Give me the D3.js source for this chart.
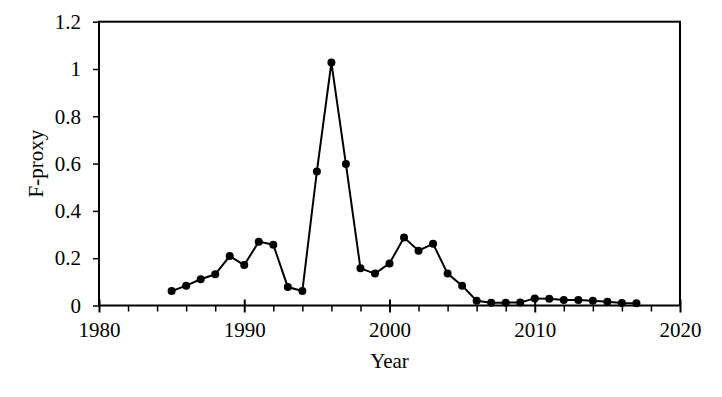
<!DOCTYPE html>
<html><head><meta charset="utf-8">
<script src="https://cdn.jsdelivr.net/npm/d3@7"></script>
<style>body{margin:0;background:#fff}svg{display:block}text{font-family:"Liberation Serif","Times New Roman",serif;fill:#000}</style>
</head><body>
<script>
const years = [1985,1986,1987,1988,1989,1990,1991,1992,1993,1994,1995,1996,1997,1998,1999,2000,2001,2002,2003,2004,2005,2006,2007,2008,2009,2010,2011,2012,2013,2014,2015,2016,2017];
const fproxy = [0.061,0.084,0.111,0.132,0.209,0.171,0.270,0.257,0.078,0.061,0.567,1.027,0.598,0.157,0.135,0.178,0.287,0.232,0.261,0.135,0.084,0.020,0.012,0.012,0.013,0.030,0.029,0.023,0.023,0.020,0.016,0.011,0.010];
const xTicks = [1980,1990,2000,2010,2020];
const yTicks = [0,0.2,0.4,0.6,0.8,1,1.2];
const xLabel = "Year", yLabel = "F-proxy";

const W=722,H=397;
const svg=d3.select("body").append("svg").attr("width",W).attr("height",H);
const x=d3.scaleLinear().domain([1980,2020]).range([99,680]);
const y=d3.scaleLinear().domain([0,1.2]).range([305.5,21.7]);
const FS=21;

// frame
svg.append("rect").attr("x",x(1980)).attr("y",y(1.2)).attr("width",x(2020)-x(1980)).attr("height",y(0)-y(1.2))
  .attr("fill","none").attr("stroke","#000").attr("stroke-width",2);

// x axis
const xAxis=svg.append("g").attr("transform",`translate(0,${y(0)})`)
  .call(d3.axisBottom(x).tickValues(xTicks).tickSize(7).tickPadding(10).tickFormat(d3.format("d")));
xAxis.select(".domain").remove();
xAxis.selectAll(".tick line").attr("y1",-6).attr("stroke-width",2);
xAxis.selectAll("text").attr("font-size",FS);
// minor x ticks
const minor=d3.range(1982,2020,2).filter(v=>v%10!==0);
svg.append("g").attr("transform",`translate(0,${y(0)})`)
  .call(d3.axisBottom(x).tickValues(minor).tickSize(6).tickFormat(""))
  .call(g=>g.select(".domain").remove())
  .selectAll(".tick line").attr("stroke-width",1.5);

// y axis
const yAxis=svg.append("g").attr("transform",`translate(${x(1980)},0)`)
  .call(d3.axisLeft(y).tickValues(yTicks).tickSize(6).tickPadding(12).tickFormat(d=>d3.format("")(+d.toFixed(1))));
yAxis.select(".domain").remove();
yAxis.selectAll(".tick line").attr("stroke-width",1.5);
yAxis.selectAll("text").attr("font-size",FS);

// line
const pts=years.map((yr,i)=>[yr,fproxy[i]]);
svg.append("path").datum(pts).attr("fill","none").attr("stroke","#000").attr("stroke-width",2)
  .attr("d",d3.line().x(d=>x(d[0])).y(d=>y(d[1])));
svg.append("g").selectAll("circle").data(pts).join("circle")
  .attr("cx",d=>x(d[0])).attr("cy",d=>y(d[1])).attr("r",4).attr("fill","#000");

// labels
svg.append("text").attr("x",(x(1980)+x(2020))/2).attr("y",368).attr("text-anchor","middle").attr("font-size",FS).text(xLabel);
svg.append("text").attr("transform",`translate(43,${(y(0)+y(1.2))/2}) rotate(-90)`).attr("text-anchor","middle").attr("font-size",FS).text(yLabel);
</script>
</body></html>
